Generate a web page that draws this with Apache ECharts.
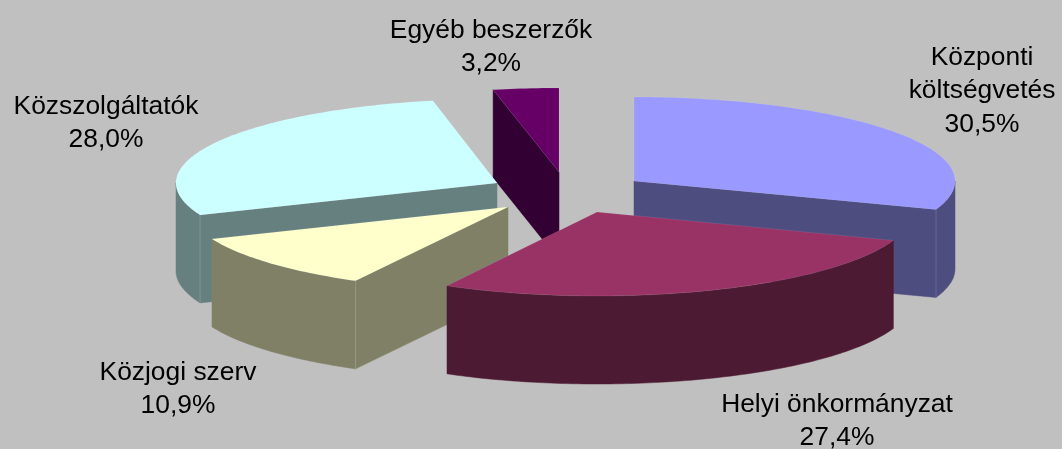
<!DOCTYPE html>
<html>
<head>
<meta charset="utf-8">
<style>html,body{margin:0;padding:0;background:#c0c0c0}#c{width:1062px;height:449px}</style>
<script src="https://cdn.jsdelivr.net/npm/echarts@6/dist/echarts.min.js"></script>
</head>
<body>
<div id="c"></div>
<script>
// Data
const categories = ['Központi\nköltségvetés', 'Helyi önkormányzat', 'Közjogi szerv', 'Közszolgáltatók', 'Egyéb beszerzők'];
const shares = [30.5, 27.4, 10.9, 28.0, 3.2];

// Styles and layout (not data)
const topColors = ['#9999ff', '#993366', '#ffffcc', '#ccffff', '#660066'];
const wallColors = ['#4d4d80', '#4d1a33', '#808066', '#668080', '#330033'];
const apexX = [634, 597, 508, 497, 559];
const apexY = [181, 212, 207, 183, 172];
const radiusX = [321, 315, 320, 321, 330];
const labelX = [982, 837, 178, 106, 491];
const labelY = [91, 421, 389, 123, 47];
const drawRank = [2, 4, 3, 1, 0];
const RY = 84, DEPTH = 88;

const total = shares.reduce((a, b) => a + b, 0);
const toDeg = v => echarts.number.linearMap(v, [0, total], [0, 360]);
const starts = [];
shares.reduce((acc, v, i) => { starts[i] = acc; return acc + v; }, 0);

function rim(i, deg, dy) {
  const r = deg * Math.PI / 180;
  return [apexX[i] + radiusX[i] * Math.sin(r), apexY[i] - RY * Math.cos(r) + (dy || 0)];
}
function arc(i, a, b, dy) {
  const pts = [];
  const n = Math.max(2, Math.ceil(Math.abs(b - a)));
  for (let k = 0; k <= n; k++) pts.push(rim(i, a + (b - a) * k / n, dy));
  return pts;
}
function radialFace(i, deg, z2) {
  const c = [apexX[i], apexY[i]], e = rim(i, deg);
  return {
    type: 'polygon', z2,
    shape: { points: [c, e, [e[0], e[1] + DEPTH], [c[0], c[1] + DEPTH]] },
    style: { fill: wallColors[i], stroke: wallColors[i], lineWidth: 0.5 }
  };
}

function renderSlice(params, api) {
  const i = params.dataIndex;
  const a0 = toDeg(starts[i]);
  const a1 = toDeg(starts[i] + shares[i]);
  const base = drawRank[i] * 10;
  const children = [];
  // Radial faces turned towards the viewer
  if (a0 > 180 && a0 < 360) children.push(radialFace(i, a0, base));
  if (a1 > 0 && a1 < 180) children.push(radialFace(i, a1, base));
  // Outer curved wall, only its front half
  const w0 = Math.max(a0, 90), w1 = Math.min(a1, 270);
  if (w1 > w0) {
    children.push({
      type: 'polygon', z2: base + 1,
      shape: { points: arc(i, w0, w1, 0).concat(arc(i, w1, w0, DEPTH)) },
      style: { fill: wallColors[i], stroke: wallColors[i], lineWidth: 0.5 }
    });
  }
  // Light seam where a radial face meets the curved wall
  [a0, a1].forEach(d => {
    const hasFace = (d === a0 && a0 > 180 && a0 < 360) || (d === a1 && a1 > 0 && a1 < 180);
    if (hasFace && d > 90 && d < 270) {
      const e = rim(i, d);
      children.push({
        type: 'line', z2: base + 2,
        shape: { x1: e[0], y1: e[1], x2: e[0], y2: e[1] + DEPTH },
        style: { stroke: 'rgba(255,255,255,0.16)', lineWidth: 1 }
      });
    }
  });
  // Top face
  children.push({
    type: 'polygon', z2: base + 3,
    shape: { points: [[apexX[i], apexY[i]]].concat(arc(i, a0, a1, 0)) },
    style: { fill: topColors[i], stroke: 'rgba(255,255,255,0.14)', lineWidth: 0.6 }
  });
  // Label
  children.push({
    type: 'text', z2: 100,
    style: {
      x: labelX[i], y: labelY[i],
      text: categories[i] + '\n' + shares[i].toFixed(1).replace('.', ',') + '%',
      fill: '#000000',
      font: '26.4px "Liberation Sans", Arial, sans-serif',
      lineHeight: 33.5,
      align: 'center', verticalAlign: 'middle'
    }
  });
  return { type: 'group', children };
}

const chart = echarts.init(document.getElementById('c'), null, { renderer: 'canvas' });
chart.setOption({
  backgroundColor: '#c0c0c0',
  animation: false,
  series: [{
    type: 'custom',
    coordinateSystem: 'none',
    silent: true,
    renderItem: renderSlice,
    data: shares
  }]
});
</script>
</body>
</html>
